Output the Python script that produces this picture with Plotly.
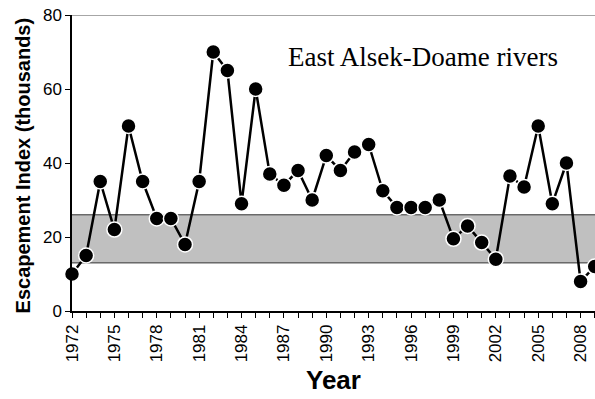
import plotly.graph_objects as go

years = list(range(1972, 2010))
escapement = [10, 15, 35, 22, 50, 35, 25, 25, 18, 35,
              70, 65, 29, 60, 37, 34, 38, 30, 42, 38,
              43, 45, 32.5, 28, 28, 28, 30, 19.5, 23, 18.5,
              14, 36.5, 33.5, 50, 29, 40, 8, 12]
goal_low, goal_high = 13, 26
x_tick_years = list(range(1972, 2009, 3))
y_ticks = [0, 20, 40, 60, 80]
title_text = "East Alsek-Doame rivers"

fig = go.Figure()
fig.add_trace(go.Scatter(
    x=years, y=escapement, mode="lines+markers",
    line=dict(color="black", width=2.5),
    marker=dict(size=15, color="black", line=dict(color="white", width=1.5)),
    cliponaxis=False, showlegend=False,
))

# escapement goal band
fig.add_shape(type="rect", xref="paper", yref="y", x0=0, x1=1, y0=goal_low, y1=goal_high,
              fillcolor="#c0c0c0", line=dict(width=0), layer="below")
for v in (goal_low, goal_high):
    fig.add_shape(type="line", xref="paper", yref="y", x0=0, x1=1, y0=v, y1=v,
                  line=dict(color="#333333", width=1), layer="below")
# top border
fig.add_shape(type="line", xref="paper", yref="y", x0=0, x1=1, y0=80, y1=80,
              line=dict(color="#888888", width=1.5), layer="below")

fig.add_annotation(text=title_text, xref="paper", yref="y", x=(423 - 72) / 523, y=68.6,
                   showarrow=False, xanchor="center", yanchor="middle",
                   font=dict(family="Liberation Serif, Times New Roman, serif", size=27, color="black"))
fig.add_annotation(text="<b>Escapement Index (thousands)</b>", xref="paper", yref="paper",
                   x=(22.5 - 72) / 523, y=0.49, textangle=-90, showarrow=False,
                   xanchor="center", yanchor="middle",
                   font=dict(family="Liberation Sans, Arial, sans-serif", size=20, color="black"))
fig.add_annotation(text="<b>Year</b>", xref="paper", yref="paper",
                   x=(333 - 72) / 523, y=-(380 - 311) / 296, showarrow=False,
                   xanchor="center", yanchor="middle",
                   font=dict(family="Liberation Sans, Arial, sans-serif", size=26, color="black"))

fig.update_layout(
    width=595, height=399,
    margin=dict(l=72, r=0, t=15, b=88),
    paper_bgcolor="white", plot_bgcolor="white",
    font=dict(family="Liberation Sans, Arial, sans-serif", color="black"),
    xaxis=dict(range=[1972, 2009.02], tickvals=x_tick_years,
               ticktext=[str(y) for y in x_tick_years], tickangle=-90,
               ticks="outside", ticklen=5, tickcolor="black", tickwidth=1,
               minor=dict(dtick=1, tick0=1972, ticks="outside", ticklen=5, tickcolor="black", tickwidth=1),
               showline=True, linecolor="black", linewidth=1.5, showgrid=False, zeroline=False,
               tickfont=dict(size=17, color="black")),
    yaxis=dict(range=[0, 80], tickvals=y_ticks, ticks="outside", ticklen=5, tickcolor="black",
               showline=True, linecolor="black", linewidth=1.5, showgrid=False, zeroline=False,
               tickfont=dict(size=17, color="black")),
)

fig.write_html("out.html")
